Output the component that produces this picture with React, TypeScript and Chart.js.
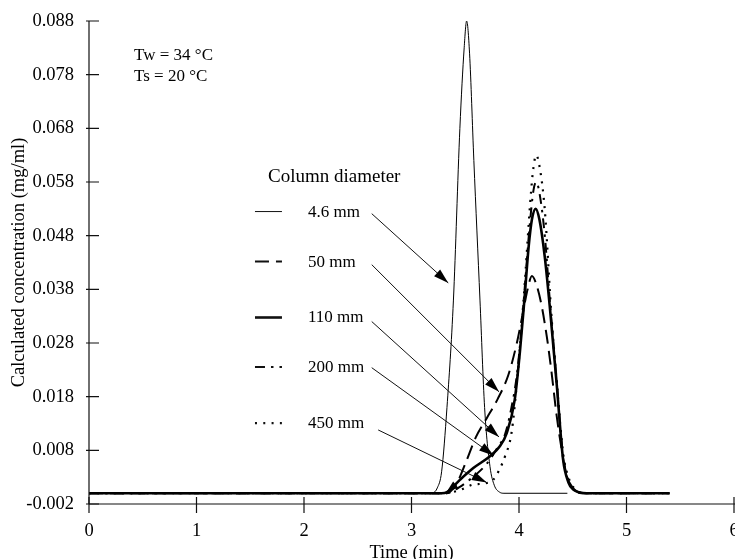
import React, { useEffect, useRef } from "react";
import { Chart, registerables } from "chart.js";

Chart.register(...registerables);

const FONT = "'Liberation Serif', 'Times New Roman', serif";

// ---- axes ----
const xTickValues = [0, 1, 2, 3, 4, 5, 6];
const yTickValues = [-0.002, 0.008, 0.018, 0.028, 0.038, 0.048, 0.058, 0.068, 0.078, 0.088];
const xTitle = "Time (min)";
const yTitle = "Calculated concentration (mg/ml)";

// ---- series (time in min, concentration in mg/ml) ----
const t46 = [0, 3.1, 3.2, 3.24, 3.28, 3.33, 3.39, 3.45, 3.49, 3.513, 3.54, 3.58, 3.637, 3.68, 3.73, 3.77, 3.82, 3.86, 4.45];
const c46 = [0, 0, 0.0001, 0.001, 0.004, 0.016, 0.036, 0.068, 0.083, 0.088, 0.082, 0.062, 0.036, 0.016, 0.005, 0.0015, 0.0002, 0, 0];

const t50 = [0, 3.3, 3.36, 3.42, 3.5, 3.6, 3.7, 3.8, 3.9, 3.98, 4.04, 4.08, 4.12, 4.16, 4.21, 4.26, 4.3, 4.35, 4.39, 4.44, 4.5, 4.58, 5.4];
const c50 = [0, 0, 0.0003, 0.0018, 0.0055, 0.0105, 0.014, 0.0175, 0.022, 0.028, 0.034, 0.038, 0.0405, 0.039, 0.035, 0.029, 0.023, 0.0145, 0.009, 0.0035, 0.001, 0, 0];

const t110 = [0, 3.28, 3.33, 3.45, 3.575, 3.73, 3.82, 3.886, 3.96, 4.01, 4.05, 4.09, 4.12, 4.155, 4.19, 4.24, 4.29, 4.35, 4.41, 4.46, 4.505, 4.56, 4.63, 5.4];
const c110 = [0, 0, 0.0002, 0.0025, 0.0047, 0.0069, 0.0087, 0.0112, 0.0174, 0.0267, 0.036, 0.046, 0.051, 0.053, 0.051, 0.044, 0.034, 0.0205, 0.0063, 0.002, 0.0007, 0.0002, 0, 0];

const t200 = [0, 3.3, 3.35, 3.45, 3.57, 3.7, 3.8, 3.87, 3.93, 3.98, 4.02, 4.06, 4.1, 4.135, 4.16, 4.19, 4.24, 4.29, 4.35, 4.41, 4.46, 4.52, 4.62, 5.4];
const c200 = [0, 0, 0.0001, 0.0012, 0.003, 0.0055, 0.0085, 0.011, 0.016, 0.022, 0.03, 0.04, 0.05, 0.0565, 0.058, 0.056, 0.048, 0.035, 0.021, 0.007, 0.0025, 0.0006, 0, 0];

const t450 = [0, 3.3, 3.35, 3.45, 3.57, 3.66, 3.76, 3.82, 3.87, 3.93, 3.98, 4.02, 4.06, 4.1, 4.13, 4.16, 4.19, 4.24, 4.3, 4.35, 4.41, 4.46, 4.52, 4.62, 5.4];
const c450 = [0, 0, 0.0001, 0.0006, 0.0016, 0.0018, 0.0025, 0.0045, 0.0069, 0.0112, 0.0205, 0.03, 0.041, 0.053, 0.06, 0.063, 0.061, 0.0528, 0.0336, 0.021, 0.0075, 0.003, 0.0008, 0, 0];

const seriesLabels = ["4.6 mm", "50 mm", "110 mm", "200 mm", "450 mm"];
const seriesT = [t46, t50, t110, t200, t450];
const seriesC = [c46, c50, c110, c200, c450];

// ---- annotation texts ----
const legendTitle = "Column diameter";
const conditionLines = ["Tw = 34 °C", "Ts = 20 °C"];

// line styles per series
const seriesStyle = [
  { w: 1, dash: [] as number[] },
  { w: 2, dash: [14, 7] },
  { w: 2.6, dash: [] as number[] },
  { w: 2, dash: [10, 6, 2.5, 6] },
  { w: 2.2, dash: [2, 6.3] },
];

// annotation anchors (data units)
const conditionAnchor = { t: 0.419, v: [0.0807, 0.0768] };
const legendTitleAnchor = { t: 1.665, v: 0.058 };
const legendSampleT = [1.544, 1.795];
const legendLabelT = 2.037;
const legendRowV = [0.05156, 0.04225, 0.03182, 0.02258, 0.01215];
const arrowFrom = [
  [2.63, 0.0521],
  [2.63, 0.0426],
  [2.63, 0.032],
  [2.63, 0.0234],
  [2.69, 0.0118],
];
const arrowTo = [
  [3.342, 0.0392],
  [3.814, 0.0189],
  [3.814, 0.0105],
  [3.767, 0.007],
  [3.7, 0.002],
];
const footArrow = { from: [3.73, 0.0069], to: [3.325, 0.0002] };

function arrowHead(ctx: CanvasRenderingContext2D, x0: number, y0: number, x1: number, y1: number, len = 15, half = 4.5) {
  const a = Math.atan2(y1 - y0, x1 - x0);
  const bx = x1 - len * Math.cos(a);
  const by = y1 - len * Math.sin(a);
  ctx.beginPath();
  ctx.moveTo(x1, y1);
  ctx.lineTo(bx + half * Math.sin(a), by - half * Math.cos(a));
  ctx.lineTo(bx - half * Math.sin(a), by + half * Math.cos(a));
  ctx.closePath();
  ctx.fill();
}

const annotPlugin = {
  id: "annot",
  afterDraw(chart: any) {
    const { ctx, chartArea } = chart;
    const xs = chart.scales.x;
    const ys = chart.scales.y;
    const px = (t: number) => xs.getPixelForValue(t);
    const py = (v: number) => ys.getPixelForValue(v);
    ctx.save();
    ctx.strokeStyle = "#111";
    ctx.fillStyle = "#000";
    ctx.lineWidth = 1.2;
    ctx.setLineDash([]);
    // axis lines
    ctx.beginPath();
    ctx.moveTo(chartArea.left, chartArea.top);
    ctx.lineTo(chartArea.left, chartArea.bottom);
    ctx.moveTo(chartArea.left, chartArea.bottom);
    ctx.lineTo(chartArea.right + 2, chartArea.bottom);
    ctx.stroke();
    // crossing ticks
    ctx.beginPath();
    for (const v of yTickValues) {
      const yy = py(v);
      ctx.moveTo(chartArea.left - 3, yy);
      ctx.lineTo(chartArea.left + 10, yy);
    }
    for (const t of xTickValues) {
      const xx = px(t);
      ctx.moveTo(xx, chartArea.bottom - 7);
      ctx.lineTo(xx, chartArea.bottom + 9);
    }
    ctx.stroke();

    // conditions
    ctx.font = `17px ${FONT}`;
    ctx.textAlign = "left";
    ctx.textBaseline = "alphabetic";
    conditionLines.forEach((s, i) => ctx.fillText(s, px(conditionAnchor.t), py(conditionAnchor.v[i])));

    // legend
    ctx.font = `19px ${FONT}`;
    ctx.fillText(legendTitle, px(legendTitleAnchor.t), py(legendTitleAnchor.v));
    ctx.font = `17px ${FONT}`;
    seriesLabels.forEach((lab, i) => {
      const by = py(legendRowV[i]);
      ctx.fillText(lab, px(legendLabelT), by);
      ctx.save();
      ctx.lineWidth = seriesStyle[i].w;
      ctx.setLineDash(seriesStyle[i].dash);
      ctx.lineCap = "butt";
      ctx.beginPath();
      ctx.moveTo(px(legendSampleT[0]), by - 5);
      ctx.lineTo(px(legendSampleT[1]), by - 5);
      ctx.stroke();
      ctx.restore();
    });

    // arrows
    ctx.lineWidth = 1;
    ctx.setLineDash([]);
    arrowFrom.forEach((f, i) => {
      const x0 = px(f[0]), y0 = py(f[1]);
      const x1 = px(arrowTo[i][0]), y1 = py(arrowTo[i][1]);
      ctx.beginPath();
      ctx.moveTo(x0, y0);
      ctx.lineTo(x1, y1);
      ctx.stroke();
      arrowHead(ctx, x0, y0, x1, y1);
    });
    arrowHead(ctx, px(footArrow.from[0]), py(footArrow.from[1]), px(footArrow.to[0]), py(footArrow.to[1]), 12, 4);
    ctx.restore();
  },
};

export default function App() {
  const ref = useRef<HTMLCanvasElement | null>(null);
  useEffect(() => {
    if (!ref.current) return;
    const datasets = seriesT.map((ts, i) => ({
      label: seriesLabels[i],
      data: ts.map((t, j) => ({ x: t, y: seriesC[i][j] })),
      borderColor: "#000",
      backgroundColor: "#000",
      borderWidth: seriesStyle[i].w,
      borderDash: seriesStyle[i].dash,
      borderCapStyle: "butt",
      borderJoinStyle: "round",
      pointRadius: 0,
      fill: false,
      cubicInterpolationMode: "monotone",
    }));
    const chart = new Chart(ref.current, {
      type: "line",
      data: { datasets } as any,
      options: {
        animation: false,
        responsive: false,
        devicePixelRatio: 1,
        layout: { padding: { left: 0, right: 26, top: 21, bottom: 0 } },
        plugins: { legend: { display: false }, tooltip: { enabled: false } },
        scales: {
          x: {
            type: "linear",
            min: 0,
            max: 6,
            afterBuildTicks: (s: any) => {
              s.ticks = xTickValues.map((v) => ({ value: v }));
            },
            afterFit: (s: any) => {
              s.height = 55;
              s.paddingLeft = 0;
              s.paddingRight = 0;
            },
            grid: { display: false, drawTicks: false },
            border: { display: false },
            ticks: {
              color: "#000",
              font: { family: FONT, size: 18.5 },
              padding: 16,
              maxRotation: 0,
              autoSkip: false,
              callback: (v: any) => String(v),
            },
            title: {
              display: true,
              text: xTitle,
              color: "#000",
              font: { family: FONT, size: 18.5, lineHeight: 1 },
              padding: { top: 0, bottom: -3 },
            },
          },
          y: {
            type: "linear",
            min: -0.002,
            max: 0.088,
            afterBuildTicks: (s: any) => {
              s.ticks = yTickValues.map((v) => ({ value: v }));
            },
            afterFit: (s: any) => {
              s.width = 89;
              s.paddingTop = 0;
              s.paddingBottom = 0;
            },
            grid: { display: false, drawTicks: false },
            border: { display: false },
            ticks: {
              color: "#000",
              font: { family: FONT, size: 18.5 },
              padding: 15,
              autoSkip: false,
              callback: (v: any) => Number(v).toFixed(3),
            },
            title: {
              display: true,
              text: yTitle,
              color: "#000",
              font: { family: FONT, size: 18.5 },
              padding: { top: 8, bottom: 0 },
            },
          },
        },
      } as any,
      plugins: [annotPlugin],
    });
    return () => chart.destroy();
  }, []);

  return (
    <div
      style={{
        position: "fixed",
        left: 0,
        top: 0,
        width: 735,
        height: 559,
        overflow: "hidden",
        background: "#fff",
      }}
    >
      <canvas ref={ref} width={760} height={559} style={{ display: "block" }} />
    </div>
  );
}
